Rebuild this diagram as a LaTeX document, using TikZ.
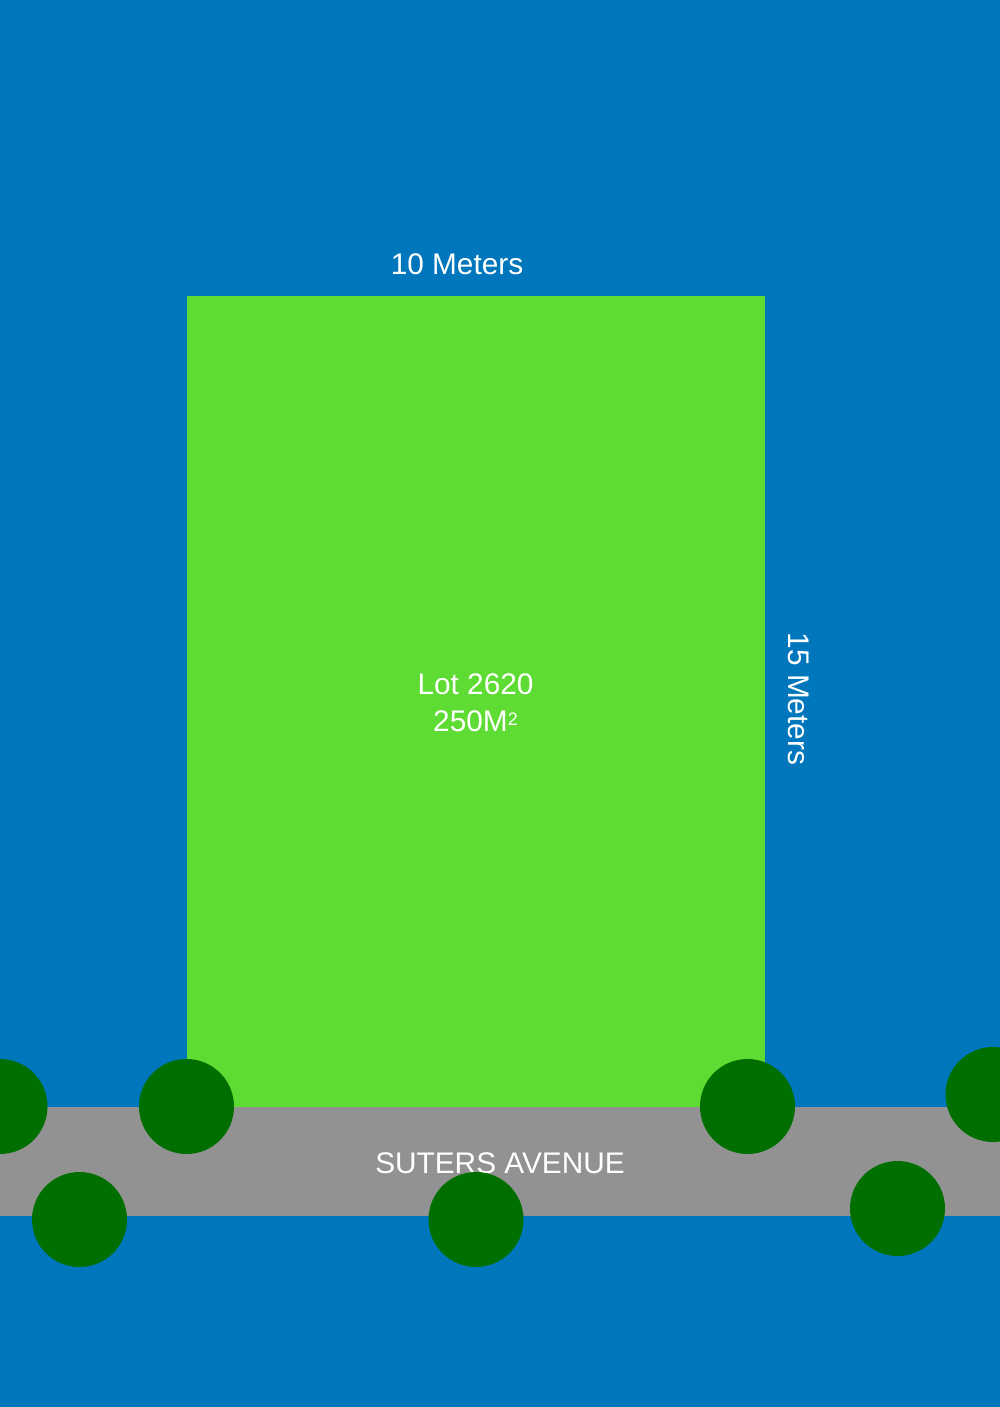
\documentclass[tikz,border=0pt]{standalone}
\usepackage{fontspec}
\setmainfont{Liberation Sans}
\usepackage{tikz}
\definecolor{water}{HTML}{0076BC}
\definecolor{lotgreen}{HTML}{5FDC33}
\definecolor{road}{HTML}{929292}
\definecolor{tree}{HTML}{006F00}
\tikzset{
	label text/.style={text=white,font=\fontsize{29.8pt}{37pt}\selectfont,inner sep=0pt,align=center},
	tree dot/.style={fill=tree}
}

\begin{document}
\begin{tikzpicture}[x=1pt,y=-1pt]
	% background
	\fill[water] (0,0) rectangle (1000,1407);
	\useasboundingbox (0,0) rectangle (1000,1407);
	
	% lot
	\fill[lotgreen] (187,296) rectangle (765,1107);
	
	% road
	\fill[road] (0,1107) rectangle (1000,1216);
	
	% labels
	\node[label text] (width) at (457,264) {10 Meters};
	\node[label text,rotate=-90] (depth) at (799,699) {15 Meters};
	\node[label text] (lot) at (475.5,703) {Lot 2620\\250M\raisebox{6pt}{\fontsize{18pt}{18pt}\selectfont 2}};
	\node[label text] (street) at (500,1163) {SUTERS AVENUE};
	
	% trees
	\foreach \x/\y in {0/1106.5,186.5/1106.5,747.5/1106.5,993/1094.5,79.5/1219.5,476/1219.5,897.5/1208.5}
		\fill[tree dot] (\x,\y) circle (47.5);
\end{tikzpicture}
\end{document}
